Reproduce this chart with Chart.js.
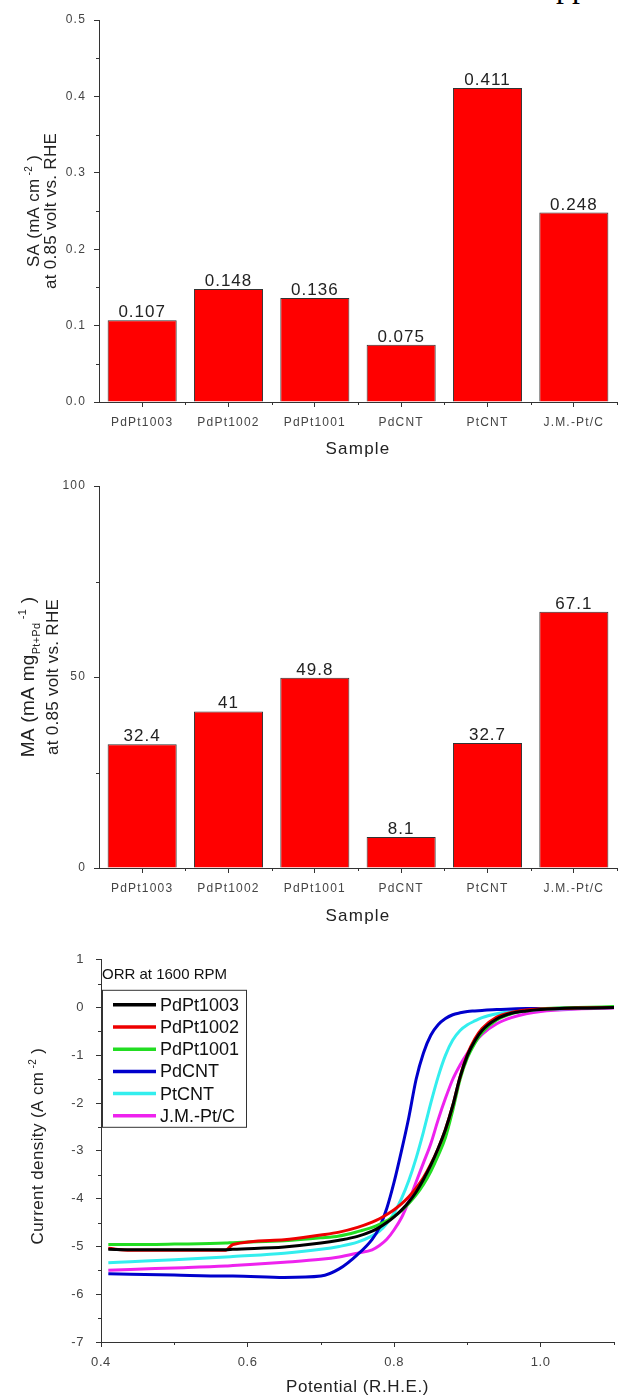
<!DOCTYPE html>
<html>
<head>
<meta charset="utf-8">
<script src="https://cdn.jsdelivr.net/npm/chart.js@4"></script>
<style>
  body { margin: 0; background: #fff; width: 621px; height: 1398px; position: relative; overflow: hidden; }
  canvas { position: absolute; left: 0; }
  #hdr { position: absolute; left: 556px; top: -32px; font: 32px "Liberation Serif", serif; color: #000; }
</style>
</head>
<body>
<div id="hdr">pp</div>
<canvas id="sa" width="621" height="460" style="top:0"></canvas>
<canvas id="ma" width="621" height="460" style="top:470px"></canvas>
<canvas id="orr" width="621" height="458" style="top:940px"></canvas>
<script>
// bar charts
const samples = ['PdPt1003', 'PdPt1002', 'PdPt1001', 'PdCNT', 'PtCNT', 'J.M.-Pt/C'];
const saValues = [0.107, 0.148, 0.136, 0.075, 0.411, 0.248];
const maValues = [32.4, 41, 49.8, 8.1, 32.7, 67.1];

// ORR polarisation curves
const potential = [0.41, 0.44, 0.5, 0.57, 0.58, 0.65, 0.7, 0.725, 0.75, 0.77, 0.78, 0.79, 0.8, 0.81, 0.82, 0.83, 0.84, 0.85, 0.86, 0.87, 0.88, 0.89, 0.9, 0.91, 0.92, 0.94, 0.96, 0.98, 1.0, 1.05, 1.1];
const pdpt1003 = [-5.06, -5.07, -5.07, -5.07, -5.06, -5.01, -4.93, -4.87, -4.79, -4.68, -4.6, -4.5, -4.38, -4.24, -4.07, -3.86, -3.6, -3.3, -2.95, -2.55, -2.05, -1.45, -1.0, -0.7, -0.48, -0.24, -0.12, -0.07, -0.04, -0.01, 0];
const pdpt1002 = [-5.04, -5.08, -5.08, -5.08, -4.96, -4.86, -4.76, -4.7, -4.6, -4.49, -4.42, -4.33, -4.23, -4.11, -3.96, -3.78, -3.56, -3.28, -2.95, -2.55, -2.05, -1.45, -0.98, -0.66, -0.44, -0.2, -0.1, -0.05, -0.03, -0.01, 0];
const pdpt1001 = [-4.96, -4.96, -4.95, -4.93, -4.92, -4.88, -4.82, -4.78, -4.69, -4.6, -4.54, -4.46, -4.37, -4.25, -4.1, -3.92, -3.7, -3.43, -3.1, -2.72, -2.15, -1.5, -1.05, -0.75, -0.52, -0.26, -0.13, -0.07, -0.03, 0, 0.02];
const pdcnt = [-5.57, -5.58, -5.6, -5.62, -5.62, -5.65, -5.62, -5.47, -5.17, -4.85, -4.6, -4.2, -3.65, -3.0, -2.3, -1.5, -0.95, -0.58, -0.36, -0.23, -0.15, -0.11, -0.08, -0.07, -0.06, -0.04, -0.03, -0.02, -0.02, -0.01, 0];
const ptcnt = [-5.34, -5.32, -5.28, -5.22, -5.21, -5.14, -5.06, -5.0, -4.91, -4.78, -4.68, -4.52, -4.3, -4.0, -3.62, -3.15, -2.6, -2.0, -1.45, -1.0, -0.68, -0.48, -0.36, -0.28, -0.21, -0.13, -0.08, -0.06, -0.04, -0.02, 0];
const jmPtC = [-5.5, -5.48, -5.45, -5.41, -5.4, -5.33, -5.27, -5.22, -5.14, -5.07, -4.98, -4.85, -4.65, -4.4, -4.05, -3.65, -3.25, -2.85, -2.35, -1.9, -1.5, -1.2, -0.95, -0.73, -0.56, -0.34, -0.21, -0.13, -0.08, -0.03, -0.01];

const FONT = '"Liberation Sans", Arial, sans-serif';
const AXIS = '#333';

// letter spacing for everything chart.js draws on a canvas
const spacing = {
  id: 'spacing',
  beforeLayout(chart, args, opts) { chart.ctx.letterSpacing = (opts.px || 0) + 'px'; },
  beforeDraw(chart, args, opts) { chart.ctx.letterSpacing = (opts.px || 0) + 'px'; }
};

// short minor ticks on the outside of the axes
const minorTicks = {
  id: 'minorTicks',
  afterDraw(chart, args, opts) {
    const ctx = chart.ctx, ca = chart.chartArea;
    ctx.save();
    ctx.strokeStyle = AXIS;
    ctx.lineWidth = 1;
    ctx.beginPath();
    (opts.y || []).forEach(v => {
      const p = Math.round(chart.scales.y.getPixelForValue(v)) + 0.5;
      ctx.moveTo(ca.left - 3, p); ctx.lineTo(ca.left, p);
    });
    (opts.x || []).forEach(v => {
      const p = Math.round(chart.scales.x.getPixelForValue(v)) + 0.5;
      ctx.moveTo(p, ca.bottom); ctx.lineTo(p, ca.bottom + 3);
    });
    ctx.stroke();
    ctx.restore();
  }
};

// rotated y title with sub/superscripts
function richTitle(ctx, segs, cx, cy, size, gap) {
  ctx.save();
  ctx.letterSpacing = gap + 'px';
  ctx.fillStyle = '#222';
  ctx.textAlign = 'left';
  ctx.textBaseline = 'alphabetic';
  const parts = segs.map(s => {
    const fs = (s.sub || s.sup) ? Math.round(size * 0.6) : size;
    ctx.font = fs + 'px ' + FONT;
    return Object.assign({}, s, { fs: fs, w: ctx.measureText(s.t).width });
  });
  const total = parts.reduce((a, p) => a + p.w, 0);
  ctx.translate(cx, cy);
  ctx.rotate(-Math.PI / 2);
  let x = -total / 2;
  parts.forEach(p => {
    ctx.font = p.fs + 'px ' + FONT;
    const dy = p.sub ? size * 0.3 : p.sup ? -size * 0.42 : 0;
    ctx.fillText(p.t, x, size * 0.36 + dy);
    x += p.w;
  });
  ctx.restore();
}

const yTitle = {
  id: 'yTitle',
  afterDraw(chart, args, opts) {
    opts.lines.forEach((segs, i) => richTitle(chart.ctx, segs, opts.xs[i], opts.cy, opts.sizes[i], opts.gap));
  }
};

// value printed above each bar
const barValues = {
  id: 'barValues',
  afterDatasetsDraw(chart) {
    const ctx = chart.ctx;
    const ds = chart.data.datasets[0];
    ctx.save();
    ctx.letterSpacing = '1px';
    ctx.font = '17px ' + FONT;
    ctx.fillStyle = '#222';
    ctx.textAlign = 'center';
    ctx.textBaseline = 'alphabetic';
    chart.getDatasetMeta(0).data.forEach((bar, i) => {
      ctx.fillText(String(ds.data[i]), bar.x, bar.y - 3);
    });
    ctx.restore();
  }
};

function barChart(id, values, yMax, yStep, yMinor, fmt, top, axisH, titleLines, titleXs, titleSizes, titleCy, xTitlePad) {
  return new Chart(document.getElementById(id), {
    type: 'bar',
    data: {
      labels: samples,
      datasets: [{
        data: values,
        backgroundColor: '#ff0000',
        borderColor: '#333',
        borderWidth: 1,
        categoryPercentage: 0.8,
        barPercentage: 1.0
      }]
    },
    options: {
      responsive: false,
      animation: false,
      layout: { padding: { top: top, right: 4, left: 0, bottom: 0 } },
      plugins: {
        legend: { display: false },
        tooltip: { enabled: false },
        spacing: { px: 1.2 },
        minorTicks: { y: yMinor, x: [0.5, 1.5, 2.5, 3.5, 4.5, 5.5] },
        yTitle: { lines: titleLines, xs: titleXs, sizes: titleSizes, cy: titleCy, gap: 0.3 }
      },
      scales: {
        x: {
          afterFit: s => { s.height = axisH; },
          grid: { display: true, drawOnChartArea: false, drawTicks: true, tickLength: 5, color: AXIS, offset: false },
          border: { display: true, color: AXIS },
          ticks: { color: '#444', font: { family: FONT, size: 12 }, padding: 8, maxRotation: 0 },
          title: { display: true, text: 'Sample', color: '#222', font: { family: FONT, size: 17 }, padding: { top: 0, bottom: xTitlePad } }
        },
        y: {
          min: 0, max: yMax,
          afterFit: s => { s.width = 99; },
          grid: { display: true, drawOnChartArea: false, drawTicks: true, tickLength: 5, color: AXIS },
          border: { display: true, color: AXIS },
          ticks: { stepSize: yStep, color: '#444', font: { family: FONT, size: 12 }, padding: 8, callback: fmt }
        }
      }
    },
    plugins: [spacing, minorTicks, yTitle, barValues]
  });
}

barChart('sa', saValues, 0.5, 0.1, [0.05, 0.15, 0.25, 0.35, 0.45], v => v.toFixed(1), 20, 58,
  [
    [{ t: 'SA (mA cm' }, { t: ' -2', sup: true }, { t: ' )' }],
    [{ t: 'at 0.85 volt vs. RHE' }]
  ], [33, 50], [17, 17], 211, 0);

barChart('ma', maValues, 100, 50, [25, 75], v => String(v), 16, 62,
  [
    [{ t: 'MA (mA mg' }, { t: 'Pt+Pd', sub: true }, { t: ' -1', sup: true }, { t: ' )' }],
    [{ t: 'at 0.85 volt vs. RHE' }]
  ], [27, 52], [19, 17], 207, 3);

// ORR chart
const orrSeries = [
  { label: 'PdPt1003', values: pdpt1003, color: '#000000' },
  { label: 'PdPt1002', values: pdpt1002, color: '#ee0000' },
  { label: 'PdPt1001', values: pdpt1001, color: '#22dd22' },
  { label: 'PdCNT', values: pdcnt, color: '#0000cc' },
  { label: 'PtCNT', values: ptcnt, color: '#33eeee' },
  { label: 'J.M.-Pt/C', values: jmPtC, color: '#ee22ee' }
];

const orrLegend = {
  id: 'orrLegend',
  afterDraw(chart) {
    const ctx = chart.ctx, ca = chart.chartArea;
    ctx.save();
    ctx.letterSpacing = '0px';
    ctx.fillStyle = '#111';
    ctx.textBaseline = 'middle';
    ctx.font = '15px ' + FONT;
    ctx.fillText('ORR at 1600 RPM', ca.left + 1, ca.top + 15);
    const left = ca.left + 1, top = ca.top + 30;
    ctx.strokeStyle = AXIS;
    ctx.lineWidth = 1;
    ctx.strokeRect(left + 0.5, top + 0.5, 144, 137);
    ctx.font = '18px ' + FONT;
    chart.data.datasets.forEach((ds, i) => {
      const y = top + 15 + i * 22.2;
      ctx.strokeStyle = ds.borderColor;
      ctx.lineWidth = 3.5;
      ctx.beginPath();
      ctx.moveTo(left + 11, y);
      ctx.lineTo(left + 54, y);
      ctx.stroke();
      ctx.fillStyle = '#111';
      ctx.fillText(ds.label, left + 58, y + 1);
    });
    ctx.restore();
  }
};

new Chart(document.getElementById('orr'), {
  type: 'line',
  data: {
    datasets: orrSeries.map(s => ({
      label: s.label,
      data: potential.map((p, i) => ({ x: p, y: s.values[i] })),
      borderColor: s.color,
      borderWidth: 3,
      pointRadius: 0,
      fill: false,
      cubicInterpolationMode: 'monotone'
    }))
  },
  options: {
    responsive: false,
    animation: false,
    layout: { padding: { top: 19, right: 7, left: 0, bottom: 0 } },
    plugins: {
      legend: { display: false },
      tooltip: { enabled: false },
      spacing: { px: 0.6 },
      minorTicks: { y: [0.5, -0.5, -1.5, -2.5, -3.5, -4.5, -5.5, -6.5], x: [0.5, 0.7, 0.9, 1.1] },
      yTitle: {
        lines: [[{ t: 'Current density (A cm' }, { t: ' -2', sup: true }, { t: ' )' }]],
        xs: [37], sizes: [17], cy: 206, gap: 0.4
      }
    },
    scales: {
      x: {
        type: 'linear', min: 0.4, max: 1.1,
        afterFit: s => { s.height = 56; },
        grid: { display: true, drawOnChartArea: false, drawTicks: true, tickLength: 5, color: AXIS },
        border: { display: true, color: AXIS },
        ticks: { stepSize: 0.2, includeBounds: false, color: '#444', font: { family: FONT, size: 13 }, padding: 8, callback: v => v.toFixed(1) },
        title: { display: true, text: 'Potential (R.H.E.)', color: '#222', font: { family: FONT, size: 17 }, padding: { top: 0, bottom: 0 } }
      },
      y: {
        min: -7, max: 1,
        afterFit: s => { s.width = 101; },
        grid: { display: true, drawOnChartArea: false, drawTicks: true, tickLength: 5, color: AXIS },
        border: { display: true, color: AXIS },
        ticks: { stepSize: 1, color: '#444', font: { family: FONT, size: 13 }, padding: 12 }
      }
    }
  },
  plugins: [spacing, minorTicks, yTitle, orrLegend]
});
</script>
</body>
</html>
